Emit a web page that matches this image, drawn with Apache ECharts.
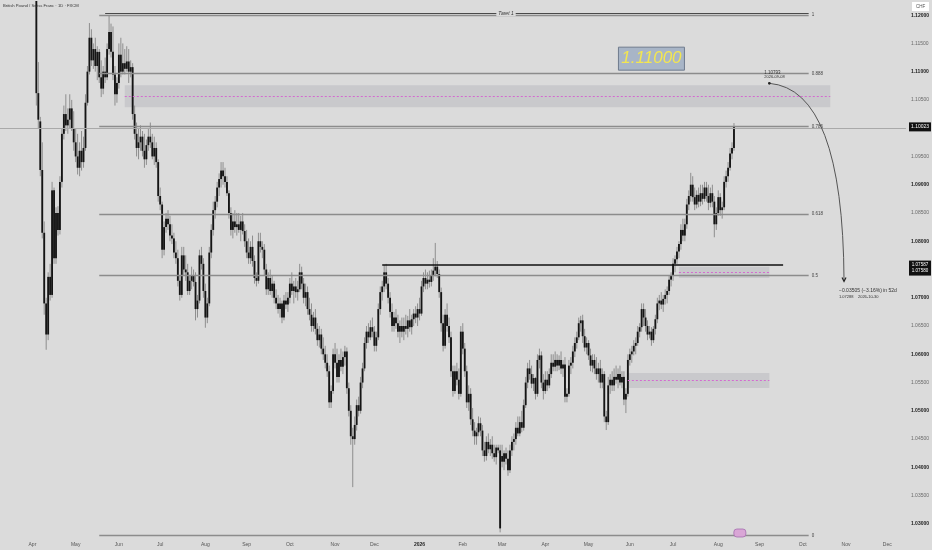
<!DOCTYPE html>
<html lang="en">
<head>
<meta charset="UTF-8">
<title>GBPCHF 1D</title>
<script src="https://cdn.jsdelivr.net/npm/echarts@6/dist/echarts.min.js"></script>
<style>
  html, body { margin: 0; padding: 0; background: #dbdbdb; }
  #main { width: 932px; height: 550px; }
</style>
</head>
<body>
<div id="main"></div>
<script>
// weekday calendar shown on the time scale
var calFrom = Date.UTC(2025, 2, 10), calTo = Date.UTC(2026, 11, 14);
var firstBar = '2025-04-03';
var monthNames = ['Jan', 'Feb', 'Mar', 'Apr', 'May', 'Jun', 'Jul', 'Aug', 'Sep', 'Oct', 'Nov', 'Dec'];

// daily candles
var opens = [
  1.1310,1.1062,1.1012,1.0926,1.0815,1.0690,1.0635,1.0737,1.0705,1.0890,
  1.0770,1.0850,1.0820,1.0905,1.0990,1.1025,1.1005,1.1015,1.1035,1.1000,
  1.0975,1.0950,1.0930,1.0960,1.0940,1.0965,1.1045,1.1100,1.1160,1.1120,
  1.1140,1.1110,1.1135,1.1090,1.1070,1.1100,1.1090,1.1140,1.1170,1.1135,
  1.1095,1.1060,1.1080,1.1130,1.1100,1.1115,1.1105,1.1118,1.1100,1.1108,
  1.1025,1.0990,1.0965,1.0975,1.0985,1.0960,1.0945,1.0970,1.0985,1.0975,
  1.0950,1.0965,1.0940,1.0880,1.0865,1.0785,1.0825,1.0840,1.0830,1.0810,
  1.0805,1.0780,1.0770,1.0730,1.0705,1.0775,1.0750,1.0745,1.0712,1.0730,
  1.0740,1.0728,1.0680,1.0695,1.0775,1.0760,1.0712,1.0665,1.0690,1.0780,
  1.0820,1.0855,1.0870,1.0895,1.0910,1.0925,1.0915,1.0905,1.0885,1.0850,
  1.0820,1.0835,1.0825,1.0830,1.0820,1.0835,1.0818,1.0800,1.0780,1.0770,
  1.0790,1.0765,1.0735,1.0730,1.0800,1.0790,1.0785,1.0750,1.0715,1.0735,
  1.0712,1.0725,1.0700,1.0690,1.0680,1.0690,1.0665,1.0695,1.0688,1.0700,
  1.0725,1.0712,1.0720,1.0710,1.0715,1.0745,1.0725,1.0700,1.0710,1.0680,
  1.0670,1.0650,1.0665,1.0645,1.0625,1.0635,1.0610,1.0600,1.0585,1.0570,
  1.0515,1.0535,1.0600,1.0585,1.0560,1.0590,1.0578,1.0595,1.0605,1.0540,
  1.0500,1.0455,1.0450,1.0475,1.0510,1.0500,1.0550,1.0575,1.0620,1.0640,
  1.0630,1.0648,1.0640,1.0615,1.0630,1.0680,1.0710,1.0720,1.0745,1.0725,
  1.0700,1.0675,1.0650,1.0665,1.0655,1.0640,1.0650,1.0640,1.0650,1.0645,
  1.0660,1.0648,1.0662,1.0672,1.0665,1.0680,1.0672,1.0720,1.0735,1.0725,
  1.0732,1.0728,1.0740,1.0748,1.0755,1.0742,1.0710,1.0655,1.0615,1.0670,
  1.0650,1.0630,1.0570,1.0535,1.0570,1.0555,1.0530,1.0640,1.0610,1.0570,
  1.0515,1.0530,1.0485,1.0465,1.0455,1.0462,1.0478,1.0465,1.0430,1.0420,
  1.0445,1.0432,1.0440,1.0425,1.0418,1.0435,1.0430,1.0420,1.0410,1.0425,
  1.0415,1.0395,1.0430,1.0445,1.0450,1.0470,1.0460,1.0480,1.0470,1.0510,
  1.0550,1.0575,1.0565,1.0548,1.0558,1.0530,1.0590,1.0598,1.0550,1.0535,
  1.0555,1.0545,1.0565,1.0585,1.0578,1.0590,1.0580,1.0590,1.0575,1.0582,
  1.0525,1.0530,1.0580,1.0585,1.0605,1.0620,1.0630,1.0655,1.0660,1.0632,
  1.0612,1.0620,1.0598,1.0580,1.0590,1.0575,1.0565,1.0575,1.0550,1.0565,
  1.0490,1.0480,1.0545,1.0555,1.0545,1.0560,1.0555,1.0565,1.0550,1.0560,
  1.0520,1.0530,1.0590,1.0600,1.0605,1.0615,1.0620,1.0640,1.0648,1.0680,
  1.0665,1.0650,1.0635,1.0640,1.0625,1.0645,1.0662,1.0690,1.0695,1.0688,
  1.0698,1.0705,1.0712,1.0732,1.0740,1.0760,1.0768,1.0782,1.0795,1.0820,
  1.0810,1.0830,1.0865,1.0880,1.0900,1.0878,1.0865,1.0882,1.0870,1.0885,
  1.0875,1.0895,1.0880,1.0868,1.0885,1.0870,1.0830,1.0850,1.0878,1.0855,
  1.0860,1.0905,1.0915,1.0930,1.0955,1.0965
];
var highs = [
  1.1325,1.1117,1.1020,1.0975,1.0835,1.0700,1.0745,1.0760,1.0905,1.0895,
  1.0860,1.0862,1.0915,1.1000,1.1040,1.1060,1.1035,1.1060,1.1050,1.1030,
  1.1000,1.0990,1.0975,1.0995,1.0985,1.1060,1.1110,1.1186,1.1175,1.1150,
  1.1160,1.1145,1.1140,1.1120,1.1110,1.1125,1.1150,1.1200,1.1185,1.1180,
  1.1110,1.1090,1.1150,1.1160,1.1150,1.1140,1.1145,1.1140,1.1120,1.1115,
  1.1040,1.1010,1.1000,1.1005,1.0995,1.0990,1.0980,1.1000,1.1010,1.0990,
  1.0985,1.0975,1.0945,1.0895,1.0870,1.0835,1.0850,1.0855,1.0845,1.0830,
  1.0815,1.0800,1.0785,1.0740,1.0790,1.0790,1.0775,1.0760,1.0740,1.0755,
  1.0750,1.0745,1.0705,1.0785,1.0790,1.0770,1.0725,1.0700,1.0790,1.0830,
  1.0870,1.0880,1.0905,1.0920,1.0940,1.0940,1.0930,1.0915,1.0890,1.0860,
  1.0850,1.0855,1.0850,1.0850,1.0845,1.0850,1.0830,1.0820,1.0805,1.0800,
  1.0810,1.0775,1.0745,1.0815,1.0815,1.0800,1.0795,1.0760,1.0745,1.0750,
  1.0740,1.0730,1.0715,1.0705,1.0700,1.0695,1.0705,1.0710,1.0710,1.0735,
  1.0745,1.0730,1.0735,1.0730,1.0760,1.0755,1.0735,1.0725,1.0720,1.0700,
  1.0690,1.0675,1.0680,1.0655,1.0650,1.0645,1.0630,1.0615,1.0600,1.0580,
  1.0545,1.0610,1.0620,1.0610,1.0600,1.0610,1.0605,1.0615,1.0612,1.0550,
  1.0510,1.0470,1.0490,1.0520,1.0525,1.0560,1.0585,1.0630,1.0650,1.0655,
  1.0660,1.0665,1.0650,1.0640,1.0690,1.0720,1.0730,1.0758,1.0760,1.0735,
  1.0710,1.0690,1.0675,1.0680,1.0670,1.0660,1.0665,1.0665,1.0670,1.0668,
  1.0680,1.0670,1.0680,1.0685,1.0690,1.0700,1.0730,1.0745,1.0750,1.0745,
  1.0748,1.0750,1.0770,1.0797,1.0765,1.0750,1.0718,1.0670,1.0680,1.0690,
  1.0665,1.0640,1.0580,1.0580,1.0585,1.0575,1.0650,1.0655,1.0620,1.0580,
  1.0545,1.0540,1.0505,1.0480,1.0470,1.0490,1.0488,1.0475,1.0445,1.0455,
  1.0460,1.0450,1.0455,1.0440,1.0440,1.0440,1.0440,1.0440,1.0430,1.0435,
  1.0430,1.0440,1.0455,1.0460,1.0480,1.0490,1.0490,1.0500,1.0520,1.0560,
  1.0585,1.0590,1.0580,1.0565,1.0560,1.0600,1.0610,1.0605,1.0565,1.0570,
  1.0570,1.0575,1.0600,1.0600,1.0605,1.0600,1.0598,1.0605,1.0590,1.0595,
  1.0540,1.0590,1.0595,1.0615,1.0630,1.0640,1.0665,1.0668,1.0670,1.0645,
  1.0630,1.0625,1.0610,1.0600,1.0600,1.0595,1.0585,1.0590,1.0575,1.0570,
  1.0500,1.0560,1.0565,1.0570,1.0575,1.0580,1.0575,1.0580,1.0570,1.0570,
  1.0540,1.0600,1.0610,1.0615,1.0625,1.0630,1.0650,1.0655,1.0690,1.0690,
  1.0680,1.0660,1.0650,1.0648,1.0650,1.0670,1.0700,1.0705,1.0710,1.0705,
  1.0715,1.0720,1.0740,1.0745,1.0770,1.0775,1.0790,1.0800,1.0830,1.0840,
  1.0840,1.0875,1.0890,1.0921,1.0915,1.0895,1.0890,1.0895,1.0900,1.0900,
  1.0905,1.0905,1.0900,1.0895,1.0900,1.0880,1.0860,1.0890,1.0885,1.0870,
  1.0915,1.0925,1.0940,1.0965,1.0975,1.1009
];
var lows = [
  1.1040,1.1000,1.0915,1.0805,1.0670,1.0608,1.0625,1.0695,1.0700,1.0760,
  1.0760,1.0810,1.0812,1.0895,1.0980,1.0995,1.0990,1.1000,1.0995,1.0960,
  1.0940,1.0918,1.0915,1.0925,1.0930,1.0960,1.1040,1.1095,1.1110,1.1105,
  1.1100,1.1085,1.1080,1.1055,1.1060,1.1080,1.1085,1.1130,1.1125,1.1085,
  1.1040,1.1045,1.1070,1.1090,1.1095,1.1095,1.1100,1.1080,1.1090,1.1015,
  1.0980,1.0950,1.0945,1.0960,1.0950,1.0930,1.0935,1.0960,1.0965,1.0945,
  1.0935,1.0930,1.0870,1.0855,1.0770,1.0775,1.0815,1.0820,1.0800,1.0795,
  1.0770,1.0760,1.0720,1.0695,1.0700,1.0740,1.0730,1.0705,1.0705,1.0715,
  1.0720,1.0660,1.0665,1.0690,1.0750,1.0700,1.0647,1.0655,1.0685,1.0770,
  1.0810,1.0840,1.0860,1.0880,1.0895,1.0900,1.0895,1.0880,1.0840,1.0810,
  1.0805,1.0815,1.0810,1.0815,1.0800,1.0812,1.0790,1.0770,1.0760,1.0760,
  1.0755,1.0725,1.0720,1.0725,1.0780,1.0770,1.0740,1.0705,1.0705,1.0705,
  1.0700,1.0690,1.0680,1.0672,1.0665,1.0655,1.0660,1.0680,1.0675,1.0690,
  1.0705,1.0690,1.0700,1.0695,1.0710,1.0715,1.0690,1.0685,1.0670,1.0660,
  1.0640,1.0640,1.0635,1.0615,1.0612,1.0600,1.0590,1.0575,1.0560,1.0505,
  1.0505,1.0530,1.0575,1.0550,1.0550,1.0570,1.0565,1.0580,1.0530,1.0490,
  1.0440,1.0365,1.0440,1.0465,1.0490,1.0495,1.0540,1.0570,1.0610,1.0620,
  1.0625,1.0630,1.0605,1.0605,1.0625,1.0670,1.0695,1.0710,1.0715,1.0690,
  1.0665,1.0640,1.0640,1.0645,1.0630,1.0620,1.0630,1.0625,1.0635,1.0630,
  1.0640,1.0635,1.0650,1.0655,1.0650,1.0660,1.0668,1.0710,1.0715,1.0715,
  1.0718,1.0720,1.0730,1.0738,1.0735,1.0700,1.0640,1.0605,1.0610,1.0640,
  1.0620,1.0560,1.0525,1.0530,1.0545,1.0520,1.0525,1.0600,1.0560,1.0505,
  1.0500,1.0475,1.0455,1.0440,1.0440,1.0455,1.0455,1.0420,1.0410,1.0412,
  1.0425,1.0420,1.0415,1.0410,1.0405,1.0425,1.0285,1.0400,1.0395,1.0405,
  1.0385,1.0390,1.0420,1.0430,1.0440,1.0455,1.0455,1.0462,1.0465,1.0505,
  1.0540,1.0555,1.0540,1.0535,1.0520,1.0525,1.0575,1.0540,1.0520,1.0530,
  1.0535,1.0540,1.0558,1.0570,1.0570,1.0570,1.0572,1.0565,1.0560,1.0515,
  1.0515,1.0525,1.0565,1.0575,1.0595,1.0610,1.0625,1.0640,1.0620,1.0605,
  1.0600,1.0590,1.0570,1.0568,1.0565,1.0555,1.0550,1.0540,1.0540,1.0480,
  1.0466,1.0475,1.0530,1.0535,1.0535,1.0548,1.0540,1.0545,1.0540,1.0510,
  1.0496,1.0525,1.0580,1.0585,1.0598,1.0600,1.0615,1.0630,1.0640,1.0650,
  1.0640,1.0625,1.0628,1.0615,1.0620,1.0635,1.0655,1.0678,1.0680,1.0675,
  1.0688,1.0690,1.0705,1.0720,1.0730,1.0745,1.0760,1.0770,1.0785,1.0800,
  1.0800,1.0822,1.0855,1.0870,1.0870,1.0855,1.0858,1.0860,1.0862,1.0865,
  1.0870,1.0870,1.0855,1.0860,1.0860,1.0807,1.0820,1.0845,1.0845,1.0840,
  1.0855,1.0895,1.0905,1.0925,1.0945,1.0960
];
var closes = [
  1.1062,1.1015,1.0926,1.0815,1.0690,1.0635,1.0737,1.0705,1.0890,1.0770,
  1.0850,1.0820,1.0905,1.0990,1.1025,1.1005,1.1015,1.1035,1.1000,1.0975,
  1.0950,1.0930,1.0960,1.0940,1.0965,1.1045,1.1100,1.1160,1.1120,1.1140,
  1.1110,1.1135,1.1090,1.1070,1.1100,1.1090,1.1140,1.1170,1.1135,1.1095,
  1.1060,1.1080,1.1130,1.1100,1.1115,1.1105,1.1118,1.1100,1.1108,1.1025,
  1.0990,1.0965,1.0975,1.0985,1.0960,1.0945,1.0970,1.0985,1.0975,1.0950,
  1.0965,1.0940,1.0880,1.0865,1.0785,1.0825,1.0840,1.0830,1.0810,1.0805,
  1.0780,1.0770,1.0730,1.0705,1.0775,1.0750,1.0745,1.0712,1.0730,1.0740,
  1.0728,1.0680,1.0695,1.0775,1.0760,1.0712,1.0665,1.0690,1.0780,1.0820,
  1.0855,1.0870,1.0895,1.0910,1.0925,1.0915,1.0905,1.0885,1.0850,1.0820,
  1.0835,1.0825,1.0830,1.0820,1.0835,1.0818,1.0800,1.0780,1.0770,1.0790,
  1.0765,1.0735,1.0730,1.0800,1.0790,1.0785,1.0750,1.0715,1.0735,1.0712,
  1.0725,1.0700,1.0690,1.0680,1.0690,1.0665,1.0695,1.0688,1.0700,1.0725,
  1.0712,1.0720,1.0710,1.0715,1.0745,1.0725,1.0700,1.0710,1.0680,1.0670,
  1.0650,1.0665,1.0645,1.0625,1.0635,1.0610,1.0600,1.0585,1.0570,1.0515,
  1.0535,1.0600,1.0585,1.0560,1.0590,1.0578,1.0595,1.0605,1.0540,1.0500,
  1.0455,1.0450,1.0475,1.0510,1.0500,1.0550,1.0575,1.0620,1.0640,1.0630,
  1.0648,1.0640,1.0615,1.0630,1.0680,1.0710,1.0720,1.0745,1.0725,1.0700,
  1.0675,1.0650,1.0665,1.0655,1.0640,1.0650,1.0640,1.0650,1.0645,1.0660,
  1.0648,1.0662,1.0672,1.0665,1.0680,1.0672,1.0720,1.0735,1.0725,1.0732,
  1.0728,1.0740,1.0748,1.0755,1.0742,1.0710,1.0655,1.0615,1.0670,1.0650,
  1.0630,1.0570,1.0535,1.0570,1.0555,1.0530,1.0640,1.0610,1.0570,1.0515,
  1.0530,1.0485,1.0465,1.0455,1.0462,1.0478,1.0465,1.0430,1.0420,1.0445,
  1.0432,1.0440,1.0425,1.0418,1.0435,1.0430,1.0292,1.0410,1.0425,1.0415,
  1.0395,1.0430,1.0445,1.0450,1.0470,1.0460,1.0480,1.0470,1.0510,1.0550,
  1.0575,1.0565,1.0548,1.0558,1.0530,1.0590,1.0598,1.0550,1.0535,1.0555,
  1.0545,1.0565,1.0585,1.0578,1.0590,1.0580,1.0590,1.0575,1.0582,1.0525,
  1.0530,1.0580,1.0585,1.0605,1.0620,1.0630,1.0655,1.0660,1.0632,1.0612,
  1.0620,1.0598,1.0580,1.0590,1.0575,1.0565,1.0575,1.0550,1.0565,1.0490,
  1.0480,1.0545,1.0555,1.0545,1.0560,1.0555,1.0565,1.0550,1.0560,1.0520,
  1.0530,1.0590,1.0600,1.0605,1.0615,1.0620,1.0640,1.0648,1.0680,1.0665,
  1.0650,1.0635,1.0640,1.0625,1.0645,1.0662,1.0690,1.0695,1.0688,1.0698,
  1.0705,1.0712,1.0732,1.0740,1.0760,1.0768,1.0782,1.0795,1.0820,1.0810,
  1.0830,1.0865,1.0880,1.0900,1.0878,1.0865,1.0882,1.0870,1.0885,1.0875,
  1.0895,1.0880,1.0868,1.0885,1.0870,1.0830,1.0850,1.0878,1.0855,1.0860,
  1.0905,1.0915,1.0930,1.0955,1.0965,1.10023
];

// drawings on the chart
var lastPrice = 1.10023;
var fibLow = 1.02794, fibHigh = 1.12000;
var fibLevels = [1, 0.888, 0.786, 0.618, 0.5, 0];
var fibFrom = '2025-05-19', fibTo = '2026-10-06';
var targetPrice = 1.12025, targetFrom = '2025-05-22';
var resistPrice = 1.07587, resistFrom = '2025-12-05', resistTo = '2026-09-17';
var zones = [
  { from: '2025-06-05', to: '2026-10-21', top: 1.1076, bottom: 1.1037, mid: 1.10573 },
  { from: '2026-07-06', to: '2026-09-08', top: 1.0755, bottom: 1.0735, mid: 1.07444 },
  { from: '2026-05-29', to: '2026-09-08', top: 1.0567, bottom: 1.05405, mid: 1.05547 }
];
var projFrom = { date: '2026-09-08', price: 1.10793 };
var projTo = { date: '2026-10-30', price: 1.07288 };

var cats = [];
for (var t = calFrom; t <= calTo; t += 864e5) {
  var d = new Date(t), wd = d.getUTCDay();
  if (wd === 0 || wd === 6) continue;
  cats.push(d.toISOString().slice(0, 10));
}
var start = cats.indexOf(firstBar);
var candles = opens.map(function (o, k) {
  return [start + k, o, closes[k], lows[k], highs[k]];
});

function monthStart(i) {
  return i > 0 && cats[i].slice(5, 7) !== cats[i - 1].slice(5, 7);
}

var myChart = echarts.init(document.getElementById('main'));
var font = 'Liberation Sans, Arial, sans-serif';

var fibLines = fibLevels.map(function (lv) {
  var p = fibLow + lv * (fibHigh - fibLow);
  return [
    { coord: [fibFrom, p], label: { formatter: String(lv) } },
    { coord: [fibTo, p] }
  ];
});

option = {
  animation: false,
  backgroundColor: '#dbdbdb',
  textStyle: { fontFamily: font },
  title: {
    text: 'British Pound / Swiss Franc · 1D · FXCM',
    left: 3, top: 4, padding: 0,
    textStyle: { fontSize: 4.2, fontWeight: 'normal', color: '#333', fontFamily: font }
  },
  grid: { left: 0, right: 26, top: 1, bottom: 12 },
  xAxis: {
    type: 'category',
    data: cats,
    boundaryGap: true,
    axisLine: { show: false },
    axisTick: { show: false },
    splitLine: { show: false },
    axisLabel: {
      interval: function (i) { return monthStart(i); },
      formatter: function (v) {
        var m = +v.slice(5, 7);
        return m === 1 ? '{y|' + v.slice(0, 4) + '}' : monthNames[m - 1];
      },
      fontSize: 5, color: '#555', margin: 4,
      rich: { y: { fontSize: 5, fontWeight: 'bold', color: '#222' } }
    }
  },
  yAxis: {
    type: 'value',
    position: 'right',
    min: 1.0275, max: 1.1225, interval: 0.0025,
    axisLine: { show: false },
    axisTick: { show: false },
    splitLine: { show: false },
    axisLabel: {
      margin: 5,
      formatter: function (v) {
        var k = Math.round(v * 10000);
        if (k % 50 !== 0) return '';
        return (k % 100 === 0 ? '{b|' : '{a|') + v.toFixed(5) + '}';
      },
      rich: {
        a: { fontSize: 5, color: '#6a6a6a' },
        b: { fontSize: 5, color: '#1a1a1a', fontWeight: 'bold' }
      }
    }
  },
  series: [
    {
      // zones
      type: 'line', data: [], z: 1, silent: true,
      markArea: {
        silent: true,
        itemStyle: { color: '#c9c9cc' },
        data: zones.map(function (z) {
          return [{ coord: [z.from, z.top] }, { coord: [z.to, z.bottom] }];
        })
      },
      markLine: {
        silent: true, symbol: ['none', 'none'],
        lineStyle: { color: '#d46ad0', type: [2, 2], width: 1 },
        label: { show: false },
        data: zones.map(function (z) {
          return [{ coord: [z.from, z.mid] }, { coord: [z.to, z.mid] }];
        })
      }
    },
    {
      name: 'GBPCHF',
      type: 'custom',
      z: 2,
      clip: true,
      data: candles,
      encode: { x: 0, y: [1, 2, 3, 4] },
      renderItem: function (params, api) {
        var i = api.value(0);
        var o = api.coord([i, api.value(1)]);
        var c = api.coord([i, api.value(2)]);
        var l = api.coord([i, api.value(3)]);
        var h = api.coord([i, api.value(4)]);
        var w = api.size([1, 0])[0] * 0.95;
        var top = Math.min(o[1], c[1]);
        var ht = Math.max(Math.abs(o[1] - c[1]), 1.5);
        return {
          type: 'group',
          children: [
            { type: 'line', shape: { x1: l[0], y1: l[1], x2: h[0], y2: h[1] },
              style: { stroke: '#8e8e8e', lineWidth: 1 } },
            { type: 'rect', shape: { x: o[0] - w / 2, y: top, width: w, height: ht },
              style: { fill: '#151515' } }
          ]
        };
      }
    },
    {
      // fib retracement
      type: 'line', data: [], z: 3, silent: true,
      markLine: {
        silent: true, symbol: ['none', 'none'],
        lineStyle: { color: '#8c8c8c', type: 'solid', width: 1.4 },
        label: {
          show: true, position: 'end', distance: 3,
          fontSize: 4.5, color: '#444', padding: [0, 0, 8, 0]
        },
        data: fibLines
      }
    },
    {
      // target, resistance and last price lines
      type: 'line', data: [], z: 4, silent: true,
      markLine: {
        silent: true, symbol: ['none', 'none'],
        label: { show: false },
        data: [
          [{ coord: [targetFrom, targetPrice], lineStyle: { color: '#4a4a4a', width: 1.2, type: 'solid' } },
           { coord: [fibTo, targetPrice] }],
          [{ coord: [resistFrom, resistPrice], lineStyle: { color: '#111', width: 1.6, type: 'solid' } },
           { coord: [resistTo, resistPrice] }],
          { yAxis: lastPrice, lineStyle: { color: '#a9a9a9', width: 1, type: 'solid' } }
        ]
      }
    }
  ]
};
myChart.setOption(option);

// overlays placed through the chart's own scales
function px(date, price) {
  return myChart.convertToPixel({ xAxisIndex: 0, yAxisIndex: 0 }, [cats.indexOf(date), price]);
}
var a = px(projFrom.date, projFrom.price);
var b = px(projTo.date, projTo.price);
var tg = px('2026-03-04', targetPrice);
var box = px('2026-06-16', 1.1123);
var ev = px('2026-08-18', 1.0285);
var yLast = myChart.convertToPixel({ yAxisIndex: 0 }, lastPrice);
var yRes = myChart.convertToPixel({ yAxisIndex: 0 }, resistPrice);
var small = { fontSize: 4.5, fill: '#333', fontFamily: font };

myChart.setOption({
  graphic: [
    // price label box
    { type: 'rect', shape: { x: box[0] - 33, y: box[1] - 11.5, width: 66, height: 23 },
      style: { fill: '#a8b5c7', stroke: '#6f7b8d', lineWidth: 1 }, z: 10 },
    { type: 'text', x: box[0], y: box[1], z: 11,
      style: { text: '1.11000', fontSize: 17, fontStyle: 'italic', fill: '#f3e650',
               align: 'center', verticalAlign: 'middle', fontFamily: font } },
    // target tag on the line
    { type: 'text', x: tg[0], y: tg[1], z: 11,
      style: { text: 'Taret 1', fontSize: 5, fontStyle: 'italic', fill: '#333',
               align: 'center', verticalAlign: 'middle', backgroundColor: '#dbdbdb',
               padding: [0, 2], fontFamily: font } },
    // projection arc
    { type: 'bezierCurve', z: 10,
      shape: { x1: a[0], y1: a[1], x2: b[0], y2: b[1] - 1, cpx1: b[0] - 1, cpy1: a[1] + 6 },
      style: { stroke: '#555', lineWidth: 1, fill: null } },
    { type: 'polyline', z: 10,
      shape: { points: [[b[0] - 2, b[1] - 4], [b[0], b[1]], [b[0] + 2, b[1] - 4]] },
      style: { stroke: '#222', lineWidth: 1.2, fill: null } },
    { type: 'circle', z: 10, shape: { cx: a[0], cy: a[1], r: 1.4 }, style: { fill: '#222' } },
    { type: 'text', x: a[0] - 5, y: a[1] - 13, z: 11,
      style: Object.assign({ text: '1.10793' }, small) },
    { type: 'text', x: a[0] - 5, y: a[1] - 8, z: 11,
      style: Object.assign({ text: '2026-09-08' }, small, { fontSize: 4 }) },
    { type: 'text', x: b[0] - 5, y: b[1] + 7, z: 11,
      style: Object.assign({ text: '\u22120.03505 (\u22123.16%) in 52d' }, small, { fontSize: 5 }) },
    { type: 'text', x: b[0] - 5, y: b[1] + 13, z: 11,
      style: Object.assign({ text: '1.07288    2026-10-30' }, small, { fontSize: 4 }) },
    // event marker
    { type: 'rect', z: 10, shape: { x: ev[0] - 6, y: 529, width: 12, height: 8, r: 3 },
      style: { fill: '#d9a6d6', stroke: '#a56fb0', lineWidth: 0.8 } },
    // price scale tags
    { type: 'rect', z: 10, shape: { x: 912, y: 2, width: 17, height: 9 },
      style: { fill: '#fff' } },
    { type: 'text', x: 920.5, y: 6.5, z: 11,
      style: { text: 'CHF', fontSize: 4.5, fill: '#555', align: 'center', verticalAlign: 'middle', fontFamily: font } },
    { type: 'rect', z: 10, shape: { x: 909, y: yLast - 4.5, width: 22, height: 9 },
      style: { fill: '#111' } },
    { type: 'text', x: 920, y: yLast, z: 11,
      style: { text: lastPrice.toFixed(5), fontSize: 5, fill: '#fff', align: 'center', verticalAlign: 'middle', fontFamily: font } },
    { type: 'rect', z: 10, shape: { x: 909, y: yRes - 4, width: 22, height: 15 },
      style: { fill: '#111' } },
    { type: 'text', x: 920, y: yRes, z: 11,
      style: { text: resistPrice.toFixed(5), fontSize: 4.5, fill: '#fff', align: 'center', verticalAlign: 'middle', fontFamily: font } },
    { type: 'text', x: 920, y: yRes + 6.5, z: 11,
      style: { text: '1.07580', fontSize: 4.5, fill: '#fff', align: 'center', verticalAlign: 'middle', fontFamily: font } }
  ]
});
</script>
</body>
</html>
